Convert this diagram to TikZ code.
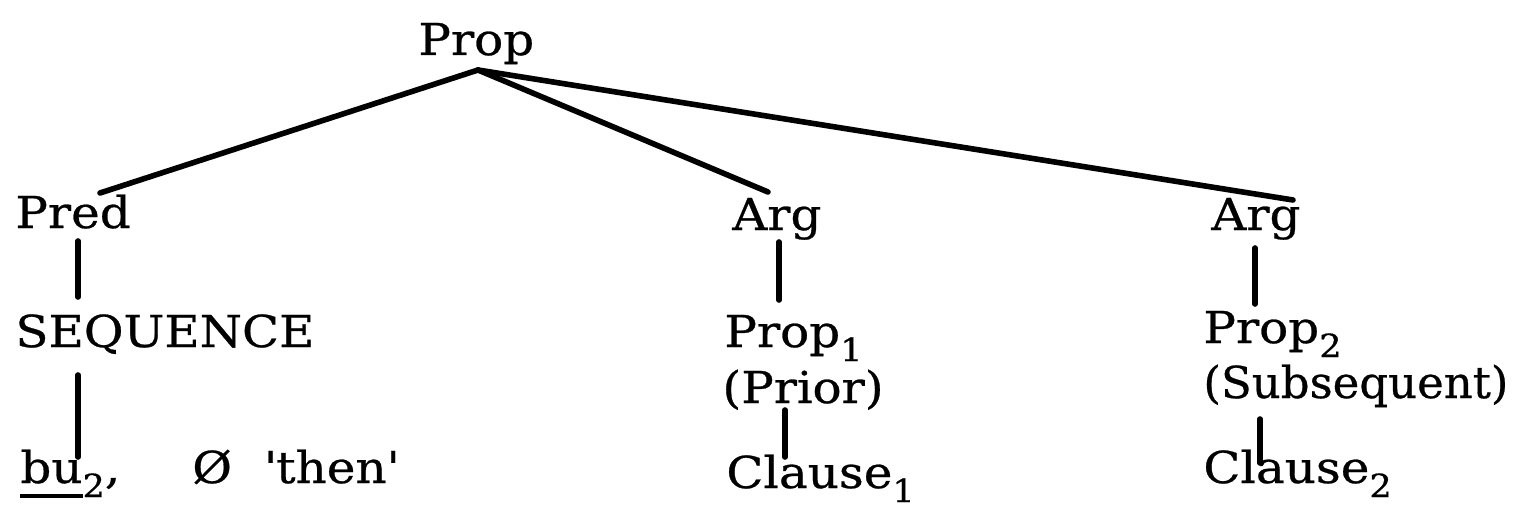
\documentclass[tikz,border=0pt]{standalone}
\usepackage{fontspec}
\setmainfont{DejaVu Serif}[FakeStretch=1.1, FakeBold=0.6]
\usetikzlibrary{calc}
% lowered subscript digit, set a little smaller than the text
\newcommand\lowsub[1]{\raisebox{-0.32em}{\fontsize{16}{16}\selectfont #1}}
% heavy underline under a word
\newcommand\ulbox[1]{\setbox0\hbox{#1}\rlap{\rule[-7.5pt]{\wd0}{2pt}}\box0}

\begin{document}
\begin{tikzpicture}[x=0.5pt,y=-0.5pt,
  lbl/.style={inner sep=0pt, anchor=base west, font=\fontsize{22}{26}\selectfont},
  branch/.style={line width=2.8pt, line cap=round}]
\useasboundingbox (0,0) rectangle (1520,508);

% labels
\node[lbl] (prop)    at (418,55)  {Prop};
\node[lbl] (pred)    at (15,228)  {Pred};
\node[lbl] (seq)     at (15,347)  {SEQUENCE};
\node[lbl] (bu)      at (20,483)  {\ulbox{bu}\lowsub{2},\hspace{36pt}Ø\hspace{16pt}\textquotesingle then\textquotesingle};
\node[lbl] (arg1)    at (732,230) {Arg};
\node[lbl] (prop1)   at (724,347) {Prop\lowsub{1}};
\node[lbl] (prior)   at (722,403) {(Prior)};
\node[lbl] (clause1) at (726,488) {Clause\lowsub{1}};
\node[lbl] (arg2)    at (1211,230) {Arg};
\node[lbl] (prop2)   at (1203,343) {Prop\lowsub{2}};
\node[lbl] (subs)    at (1203,398) {\scalebox{0.93}[1]{(Subsequent)}};
\node[lbl] (clause2) at (1203,483) {Clause\lowsub{2}};

% branches from the root
\coordinate (apex) at ($(prop.base west)+(60,15)$);
\draw[branch] (apex) -- ($(pred.base west)+(85,-35)$);
\draw[branch] (apex) -- ($(arg1.base west)+(36,-38)$);
\draw[branch] (apex) -- ($(arg2.base west)+(82,-30)$);

% vertical links
\draw[branch] ($(pred.base west)+(63,13)$)   -- ($(seq.base west)+(63,-50)$);
\draw[branch] ($(seq.base west)+(63,28)$)    -- ($(bu.base west)+(58,-26)$);
\draw[branch] ($(arg1.base west)+(47,12)$)   -- ($(prop1.base west)+(55,-47)$);
\draw[branch] ($(prior.base west)+(63,7)$)   -- ($(clause1.base west)+(59,-31)$);
\draw[branch] ($(arg2.base west)+(44,18)$)   -- ($(prop2.base west)+(52,-39)$);
\draw[branch] ($(subs.base west)+(57,21)$)   -- ($(clause2.base west)+(57,-20)$);
\end{tikzpicture}
\end{document}
